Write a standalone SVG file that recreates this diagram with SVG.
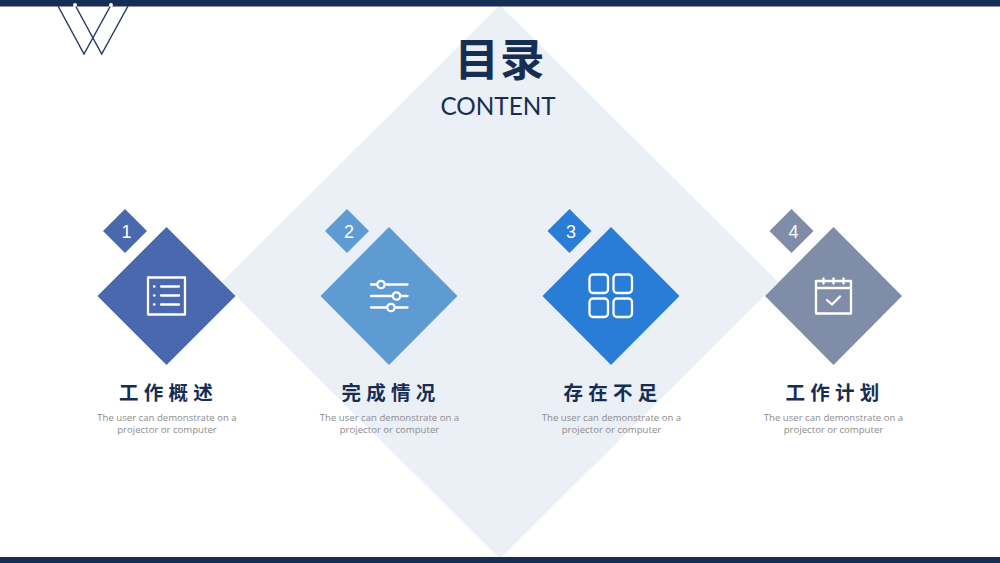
<svg xmlns="http://www.w3.org/2000/svg" width="1000" height="563" viewBox="0 0 1000 563">
<style>
.cjk{font-family:"Noto Sans CJK SC",sans-serif;font-weight:700;fill:#162d54}
.ttl{font-size:19.500px;letter-spacing:5.300px;text-anchor:middle}
.desc{font-family:"Open Sans",sans-serif;font-size:9.600px;fill:#8c8c8c;text-anchor:middle}
.num{font-family:"Liberation Sans",sans-serif;font-size:18px;fill:#fff;text-anchor:middle}
.ic{fill:none;stroke:#fff;stroke-width:2.300;stroke-linecap:round;stroke-linejoin:round}
.logo{fill:none;stroke:#2b3f63;stroke-width:1.500}
</style>
<rect width="1000" height="563" fill="#fff"/>
<polygon id="bg-diamond" points="500,5 778,282 500,559 222,282" fill="#ebeff6"/>
<rect id="top-bar" width="1000" height="6.500" fill="#162d54"/>
<rect id="bottom-bar" y="557" width="1000" height="6" fill="#162d54"/>
<g id="logo">
<polyline class="logo" points="58,6 84,54 111,5"/>
<polyline class="logo" points="75,5 101.700,54 128,6"/>
<circle cx="75" cy="5" r="2" fill="#fff"/>
<circle cx="111" cy="5" r="2" fill="#fff"/>
</g>
<g id="title">
<text class="cjk" x="500" y="76" font-size="44.500" letter-spacing="1" text-anchor="middle">目录</text>
<text x="498" y="115" font-family="Lato,sans-serif" font-size="24.300" fill="#162d54" text-anchor="middle">CONTENT</text>
</g>
<g id="node-1">
<polygon points="166.500,227 235.500,296 166.500,365 97.500,296" fill="#4a68ae"/>
<polygon points="125,209 147,231 125,253 103,231" fill="#4a68ae"/>
<text class="num" x="126.500" y="238">1</text>
<rect class="ic" x="148" y="277.500" width="37" height="37" stroke-linecap="butt"/>
<path class="ic" d="M154 286.500h.5M154 295.500h.5M154 304.500h.5M161 286.500h18M161 295.500h18M161 304.500h18"/>
<text class="cjk ttl" x="168.500" y="399.500">工作概述</text>
<text class="desc" x="167" y="420.500">The user can demonstrate on a</text>
<text class="desc" x="167" y="432.500">projector or computer</text>
</g>
<g id="node-2">
<polygon points="389,227 457.500,296 389,365 320.500,296" fill="#5f9bd3"/>
<polygon points="347,209 369,231 347,253 325,231" fill="#5f9bd3"/>
<text class="num" x="349" y="238">2</text>
<path class="ic" d="M371 284.500h5.500M386.500 284.500h21M371 296h21M402 296h5.500M371 307.500h15.500M396 307.500h11.500"/>
<circle class="ic" cx="381" cy="284.500" r="3.700"/>
<circle class="ic" cx="396.500" cy="296" r="3.700"/>
<circle class="ic" cx="391" cy="307.500" r="3.700"/>
<text class="cjk ttl" x="391" y="399.500">完成情况</text>
<text class="desc" x="389.500" y="420.500">The user can demonstrate on a</text>
<text class="desc" x="389.500" y="432.500">projector or computer</text>
</g>
<g id="node-3">
<polygon points="611,227 679.500,296 611,365 542.500,296" fill="#2a7dd6"/>
<polygon points="569.500,209 591.500,231 569.500,253 547.500,231" fill="#2a7dd6"/>
<text class="num" x="571" y="238">3</text>
<rect class="ic" x="589.500" y="274.500" width="18.500" height="18.500" rx="3.500"/>
<rect class="ic" x="613.500" y="274.500" width="18.500" height="18.500" rx="3.500"/>
<rect class="ic" x="589.500" y="298.500" width="18.500" height="18.500" rx="3.500"/>
<rect class="ic" x="613.500" y="298.500" width="18.500" height="18.500" rx="3.500"/>
<text class="cjk ttl" x="613" y="399.500">存在不足</text>
<text class="desc" x="611.500" y="420.500">The user can demonstrate on a</text>
<text class="desc" x="611.500" y="432.500">projector or computer</text>
</g>
<g id="node-4">
<polygon points="833.500,227 902,296 833.500,365 765,296" fill="#7f8da8"/>
<polygon points="791.500,209 813.500,231 791.500,253 769.500,231" fill="#7f8da8"/>
<text class="num" x="793.500" y="238">4</text>
<path class="ic" d="M816 281h35v32.500h-35zM816 288h35M823.500 278.500v5M833.500 278.500v5M843.500 278.500v5M827 300l5 4.500 8-8"/>
<text class="cjk ttl" x="835" y="399.500">工作计划</text>
<text class="desc" x="833.500" y="420.500">The user can demonstrate on a</text>
<text class="desc" x="833.500" y="432.500">projector or computer</text>
</g>
</svg>
